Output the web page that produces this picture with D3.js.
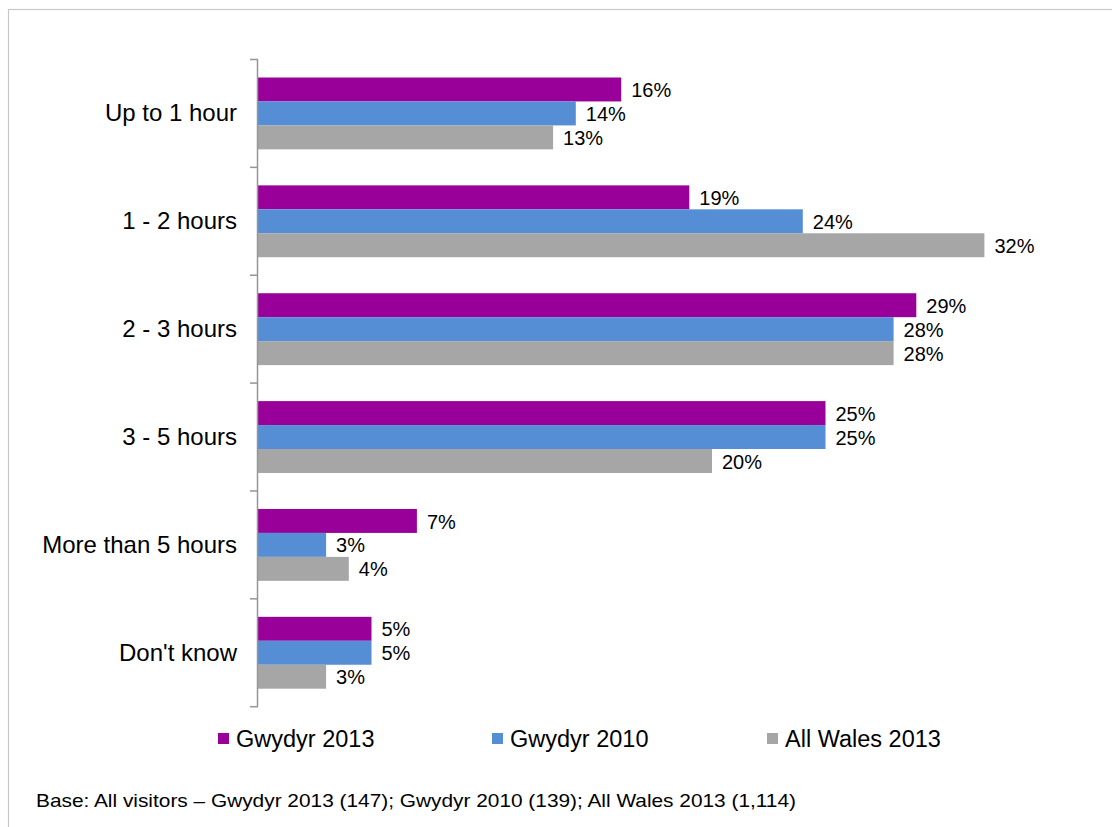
<!DOCTYPE html>
<html>
<head>
<meta charset="utf-8">
<script src="https://cdn.jsdelivr.net/npm/d3@7/dist/d3.min.js"></script>
<style>
  html, body { margin: 0; padding: 0; background: #fff; }
  svg { display: block; font-family: "Liberation Sans", Arial, sans-serif; }
</style>
</head>
<body>
<svg id="chart" width="1112" height="827"></svg>
<script>
// Length of visit, share of visitors by group
const categories = ["Up to 1 hour", "1 - 2 hours", "2 - 3 hours", "3 - 5 hours", "More than 5 hours", "Don't know"];
const seriesNames = ["Gwydyr 2013", "Gwydyr 2010", "All Wales 2013"];
const gwydyr2013 = [16, 19, 29, 25, 7, 5];
const gwydyr2010 = [14, 24, 28, 25, 3, 5];
const allWales2013 = [13, 32, 28, 20, 4, 3];
const seriesColors = ["#990099", "#558ED5", "#A6A6A6"];
const footnote = "Base: All visitors \u2013 Gwydyr 2013 (147); Gwydyr 2010 (139); All Wales 2013 (1,114)";

const seriesValues = [gwydyr2013, gwydyr2010, allWales2013];
const rows = categories.map((c, i) => ({
  category: c,
  values: seriesNames.map((s, j) => ({ series: s, value: seriesValues[j][i], color: seriesColors[j] }))
}));

const svg = d3.select("#chart");

// outer chart frame
svg.append("rect")
  .attr("x", 8.5).attr("y", 9.5)
  .attr("width", 1200).attr("height", 900)
  .attr("fill", "#fff")
  .attr("stroke", "#C8C8C8").attr("stroke-width", 1.2);

const axisX = 258;
const x = d3.scaleLinear().domain([0, 35]).range([axisX, axisX + 35 * 22.7]);
const y = d3.scaleBand().domain(categories).range([59.5, 706.7]).padding(0);
const ySeries = d3.scaleBand().domain(seriesNames).range([18, y.bandwidth() - 18]).padding(0);

// category groups
const groups = svg.append("g").selectAll("g")
  .data(rows).join("g")
  .attr("transform", d => `translate(0,${y(d.category)})`);

groups.selectAll("rect")
  .data(d => d.values).join("rect")
  .attr("x", x(0))
  .attr("y", d => ySeries(d.series))
  .attr("width", d => x(d.value) - x(0))
  .attr("height", ySeries.bandwidth())
  .attr("fill", d => d.color);

groups.selectAll("text.value")
  .data(d => d.values).join("text")
  .attr("class", "value")
  .attr("x", d => x(d.value) + 10)
  .attr("y", d => ySeries(d.series) + ySeries.bandwidth() / 2)
  .attr("dy", "0.38em")
  .attr("font-size", 20)
  .attr("fill", "#000")
  .text(d => d.value + "%");

// vertical category axis with ticks between groups
const axisG = svg.append("g").attr("transform", `translate(${axisX},0)`);
axisG.append("line")
  .attr("x1", -0.5).attr("x2", -0.5)
  .attr("y1", y.range()[0]).attr("y2", y.range()[1])
  .attr("stroke", "#969696").attr("stroke-width", 1.5);
const boundaries = categories.map(c => y(c)).concat([y.range()[1]]);
axisG.selectAll("line.tick")
  .data(boundaries).join("line")
  .attr("class", "tick")
  .attr("x1", -8).attr("x2", 0)
  .attr("y1", d => d).attr("y2", d => d)
  .attr("stroke", "#969696").attr("stroke-width", 1.5);
axisG.selectAll("text")
  .data(categories).join("text")
  .attr("x", -21)
  .attr("y", d => y(d) + y.bandwidth() / 2)
  .attr("dy", "0.33em")
  .attr("text-anchor", "end")
  .attr("font-size", 24)
  .attr("fill", "#000")
  .text(d => d);

// legend
const legendX = [218, 492, 767];
const legend = svg.append("g").selectAll("g")
  .data(seriesNames).join("g")
  .attr("transform", (d, i) => `translate(${legendX[i]},733)`);
legend.append("rect")
  .attr("width", 11).attr("height", 11)
  .attr("fill", (d, i) => seriesColors[i]);
legend.append("text")
  .attr("x", 18).attr("y", 14)
  .attr("font-size", 23.5)
  .attr("fill", "#000")
  .text(d => d);

// base note
svg.append("text")
  .attr("x", 36).attr("y", 807)
  .attr("font-size", 18.5)
  .attr("textLength", 760)
  .attr("lengthAdjust", "spacingAndGlyphs")
  .attr("fill", "#000")
  .text(footnote);
</script>
</body>
</html>
